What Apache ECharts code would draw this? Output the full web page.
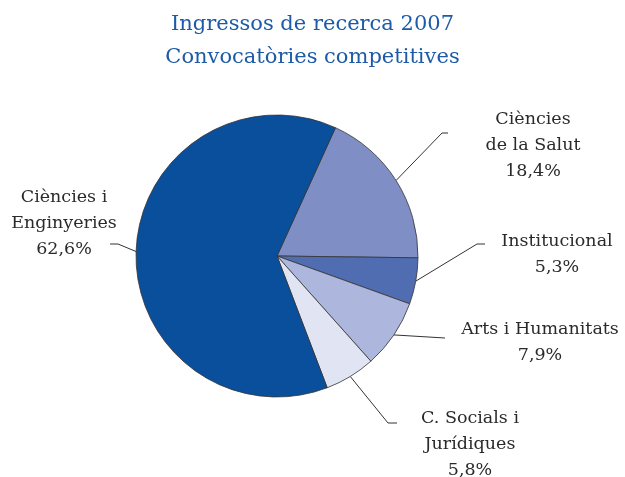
<!DOCTYPE html>
<html>
<head>
<meta charset="utf-8">
<script src="https://cdn.jsdelivr.net/npm/echarts@6/dist/echarts.min.js"></script>
<style>
html,body{margin:0;padding:0;background:#fff;}
#c{width:625px;height:477px;}
</style>
</head>
<body>
<div id="c"></div>
<script>
// Data
const categories = ["Ciències\nde la Salut", "Institucional", "Arts i Humanitats", "C. Socials i\nJurídiques", "Ciències i\nEnginyeries"];
const shares = [18.4, 5.3, 7.9, 5.8, 62.6];
const titleLines = ["Ingressos de recerca 2007", "Convocatòries competitives"];

// Styling / layout (not data)
const colors = ["#7f8fc5", "#506db1", "#adb6dc", "#e1e4f3", "#0a4f9c"];
const labelCenters = [[533, 145], [557, 254], [540, 342], [470, 444], [64, 223]];
const lineElbows = [[442, 133], [477, 244], [445, 338], [388, 423], [118, 244]];
const lineEnds = [[448, 133], [485, 244], [445, 338], [397, 423], [110, 244]];

const chart = echarts.init(document.getElementById('c'));
chart.setOption({
  animation: false,
  title: {
    text: titleLines.join('\n'),
    left: 'center',
    top: 3,
    textStyle: {
      fontFamily: 'DejaVu Serif',
      fontWeight: 'normal',
      fontSize: 21,
      lineHeight: 33,
      color: '#1d5ba7'
    }
  },
  series: [{
    type: 'pie',
    center: [277, 256],
    radius: 141,
    startAngle: 65.5,
    clockwise: true,
    avoidLabelOverlap: false,
    data: categories.map((n, i) => ({ name: n, value: shares[i], itemStyle: { color: colors[i] } })),
    itemStyle: { borderColor: '#333', borderWidth: 0.8 },
    label: {
      show: true,
      position: 'outside',
      fontFamily: 'DejaVu Serif',
      fontSize: 17.5,
      lineHeight: 26,
      color: '#2a2a2a',
      align: 'center',
      formatter: p => p.name + '\n' + p.value.toFixed(1).replace('.', ',') + '%'
    },
    labelLine: {
      show: true,
      length: 20,
      length2: 10,
      lineStyle: { color: '#333', width: 1 }
    },
    emphasis: { disabled: true },
    labelLayout: function (params) {
      const i = params.dataIndex;
      const pts = params.labelLinePoints;
      const start = pts ? pts[0] : lineElbows[i];
      return {
        x: labelCenters[i][0],
        y: labelCenters[i][1],
        align: 'center',
        verticalAlign: 'middle',
        labelLinePoints: [start, lineElbows[i], lineEnds[i]]
      };
    }
  }]
});
</script>
</body>
</html>
